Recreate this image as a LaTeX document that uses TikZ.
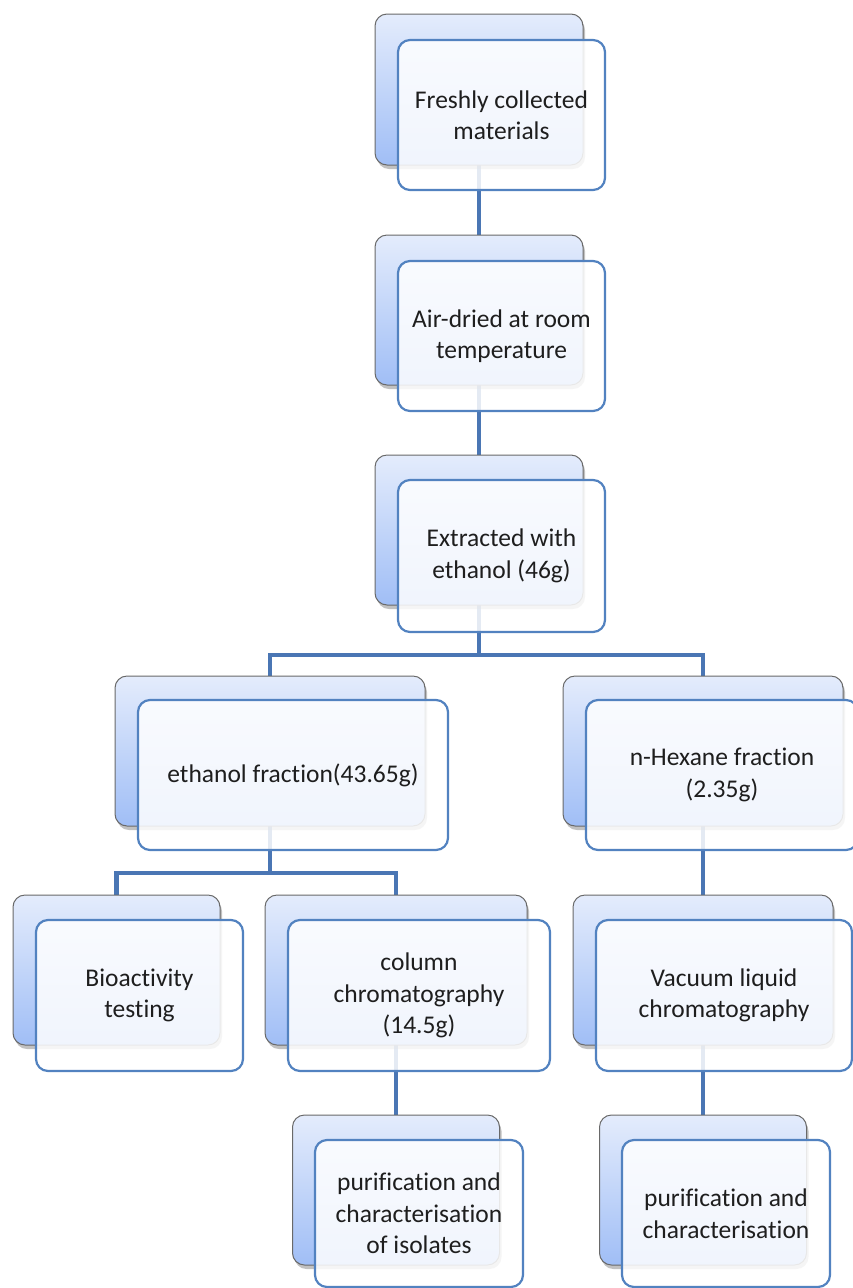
\documentclass[tikz,border=0pt]{standalone}
\usepackage{fontspec}
\setmainfont{Carlito}[Ligatures=NoCommon]
\usetikzlibrary{shadows}
\definecolor{conn}{RGB}{74,118,180}
\definecolor{backtop}{RGB}{228,236,252}
\definecolor{backbot}{RGB}{160,190,246}
\definecolor{backline}{RGB}{105,105,105}
\definecolor{frontline}{RGB}{82,130,192}
\definecolor{txt}{RGB}{30,30,30}
\begin{document}
\begin{tikzpicture}[x=1pt,y=-1pt,
  backbox/.style={draw=backline, line width=1pt, rounded corners=12pt,
    top color=backtop, bottom color=backbot, inner sep=0pt,
    drop shadow={shadow xshift=2pt, shadow yshift=-4pt, opacity=0.35, fill=black!70}},
  frontbox/.style={draw=frontline, line width=2.2pt, rounded corners=12pt,
    fill=white, fill opacity=0.85, text opacity=1, text=txt, align=center,
    inner sep=0pt, font=\fontsize{25.5}{31.5}\selectfont},
  link/.style={draw=conn, line width=4.5pt}]
\useasboundingbox (0,0) rectangle (853,1288);

% junction points
\coordinate (j1) at (479,655);
\coordinate (j2) at (270,873);

% connectors (beneath the boxes), between back-box centres
\coordinate (c1) at (479,89.5);
\coordinate (c2) at (479,310);
\coordinate (c3) at (479,530);
\coordinate (c4) at (270,751);
\coordinate (c5) at (703,751);
\coordinate (c6) at (116.5,970);
\coordinate (c7) at (396,970);
\coordinate (c8) at (703,970);
\coordinate (c9) at (396,1190);
\coordinate (c10) at (703,1190);

\draw[link] (c1) -- (c2);
\draw[link] (c2) -- (c3);
\draw[link] (c3) -- (j1);
\draw[link] (c4) |- (j1) -| (c5);
\draw[link] (c4) -- (j2);
\draw[link] (c6) |- (j2) -| (c7);
\draw[link] (c5) -- (c8);
\draw[link] (c7) -- (c9);
\draw[link] (c8) -- (c10);

% Back boxes
\node[backbox, minimum width=208pt, minimum height=151pt] (b1) at (c1) {};
\node[backbox, minimum width=208pt, minimum height=150pt] (b2) at (c2) {};
\node[backbox, minimum width=208pt, minimum height=150pt] (b3) at (c3) {};
\node[backbox, minimum width=310pt, minimum height=150pt] (b4) at (c4) {};
\node[backbox, minimum width=280pt, minimum height=150pt] (b5) at (c5) {};
\node[backbox, minimum width=207pt, minimum height=150pt] (b6) at (c6) {};
\node[backbox, minimum width=262pt, minimum height=150pt] (b7) at (c7) {};
\node[backbox, minimum width=260pt, minimum height=150pt] (b8) at (c8) {};
\node[backbox, minimum width=207pt, minimum height=150pt] (b9) at (c9) {};
\node[backbox, minimum width=207pt, minimum height=150pt] (b10) at (c10) {};

% Front boxes
\node[frontbox, minimum width=207pt, minimum height=150pt] (f1) at (501.5,115) {Freshly collected\\materials};
\node[frontbox, minimum width=207pt, minimum height=150pt] (f2) at (501.5,336) {Air-dried at room\\temperature};
\node[frontbox, minimum width=207pt, minimum height=152pt] (f3) at (501.5,556) {Extracted with\\ethanol (46g)};
\node[frontbox, minimum width=310pt, minimum height=150pt] (f4) at (293,775) {ethanol fraction(43.65g)};
\node[frontbox, minimum width=272pt, minimum height=150pt] (f5) at (722,775) {n-Hexane fraction\\(2.35g)};
\node[frontbox, minimum width=207pt, minimum height=151pt] (f6) at (139.5,995.5) {Bioactivity\\testing};
\node[frontbox, minimum width=262pt, minimum height=151pt] (f7) at (419,995.5) {column\\chromatography\\(14.5g)};
\node[frontbox, minimum width=256pt, minimum height=151pt] (f8) at (724,995.5) {Vacuum liquid\\chromatography};
\node[frontbox, minimum width=208pt, minimum height=147pt] (f9) at (419,1213.5) {purification and\\characterisation\\of isolates};
\node[frontbox, minimum width=208pt, minimum height=147pt] (f10) at (726,1213.5) {purification and\\characterisation};
\end{tikzpicture}
\end{document}
